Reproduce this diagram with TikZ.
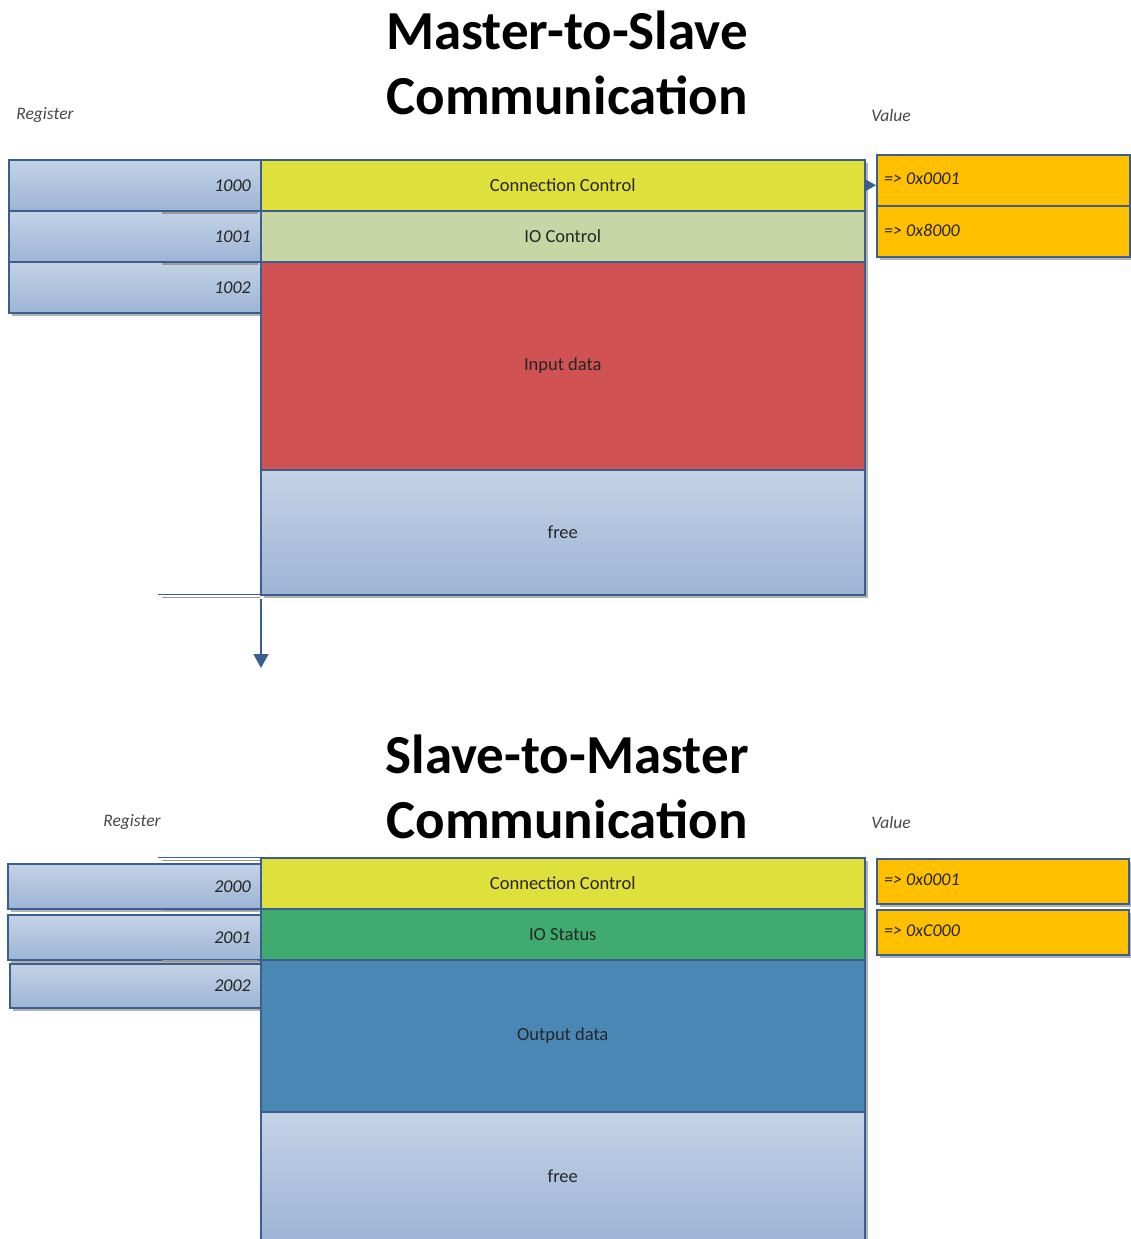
\documentclass[tikz,border=0pt]{standalone}
\usepackage{fontspec}
\setmainfont{Carlito}
\usetikzlibrary{shadows,arrows.meta}
\definecolor{bordc}{HTML}{3A5F8F}
\definecolor{gradtop}{HTML}{C4D3E6}
\definecolor{gradbot}{HTML}{9DB4D5}
\definecolor{yel}{HTML}{E0E03C}
\definecolor{palegreen}{HTML}{C8D5A5}
\definecolor{redblk}{HTML}{D05252}
\definecolor{greenblk}{HTML}{40AB6F}
\definecolor{blueblk}{HTML}{4A87B5}
\definecolor{orng}{HTML}{FFC000}
\definecolor{txt}{HTML}{262626}
\tikzset{
  shad/.style={drop shadow={shadow xshift=3pt, shadow yshift=-3pt, fill=black, opacity=0.3}},
  regbox/.style={draw=bordc, line width=1.5pt, top color=gradtop, bottom color=gradbot,
    minimum height=#1, inner sep=0pt, anchor=north west, align=right,
    font=\itshape\fontsize{18}{21}\selectfont, text=txt, shad},
  blk/.style={draw=bordc, line width=1.5pt, fill=#1, minimum width=604pt, inner sep=0pt,
    anchor=north west, font=\fontsize{18.5}{22}\selectfont, text=txt, shad},
  fblk/.style={draw=bordc, line width=1.5pt, top color=gradtop, bottom color=gradbot, minimum width=604pt, inner sep=0pt,
    anchor=north west, font=\fontsize{18.5}{22}\selectfont, text=txt, shad},
  valbox/.style={draw=bordc, line width=1.5pt, fill=orng, minimum height=#1, inner sep=0pt,
    anchor=north west, text=txt, shad},
  valtxt/.style={anchor=west, inner sep=0pt, font=\itshape\fontsize{18}{21}\selectfont, text=txt},
  hdr/.style={font=\itshape\fontsize{17.5}{20}\selectfont, text=txt!85, inner sep=0pt},
  ttl/.style={font=\bfseries\fontsize{55}{62}\selectfont, anchor=base, inner sep=0pt},
  conn/.style={draw=bordc, line width=1.5pt},
  ghost/.style={draw=black!40, line width=1.5pt},
}
\begin{document}
\begin{tikzpicture}[x=1pt,y=-1pt]
\useasboundingbox (0,0) rectangle (1131,1239);
\fill[white] (0,0) rectangle (1131,1239);
\clip (0,0) rectangle (1131,1239);

% ---------- Top section ----------
\node[ttl] (t1a) at (567,49) {Master-to-Slave};
\node[ttl] (t1b) at (567,114) {Communication};
\node[hdr] (reg1) at (45,115) {Register};
\node[hdr] (val1) at (891,115) {Value};

\node[regbox=51pt, minimum width=252pt, text width=232pt] (r1000) at (8,159) {1000};
\node[regbox=51pt, minimum width=252pt, text width=232pt] (r1001) at (8,210) {1001};
\node[regbox=51pt, minimum width=252pt, text width=232pt] (r1002) at (8,261) {1002};
\draw[ghost] (162,213) -- (258,213);
\draw[ghost] (162,264) -- (258,264);

\node[blk=yel, minimum height=51pt] (cc1) at (260,159) {Connection Control};
\node[blk=palegreen, minimum height=51pt] (io1) at (260,210) {IO Control};
\node[blk=redblk, minimum height=208pt] (in1) at (260,261) {Input data};
\node[fblk, minimum height=125pt] (fr1) at (260,469) {free};

\node[valbox=51pt, minimum width=253pt] (v1) at (876,154) {};
\node[valbox=51pt, minimum width=253pt] (v2) at (876,205) {};
\node[valtxt] (v1t) at (884,179) {=> 0x0001};
\node[valtxt] (v2t) at (884,230) {=> 0x8000};

\draw[conn, -{Triangle[length=12pt,width=13pt]}] (cc1.east) -- (cc1.east -| v1.west);

\coordinate (e1) at (158,594.5);
\coordinate (e1s) at (162,597.5);
\draw[ghost] (e1s) -- (e1s -| fr1.south west);
\draw[conn] (e1) -- (e1 -| fr1.south west);
\coordinate (a0) at (261,599);
\coordinate (a1) at (261,668);
\draw[conn, -{Triangle[length=14pt,width=15pt]}] (a0) -- (a1);

% ---------- Bottom section ----------
\node[ttl] (t2a) at (567,773) {Slave-to-Master};
\node[ttl] (t2b) at (567,838) {Communication};
\node[hdr] (reg2) at (132,822) {Register};
\node[hdr] (val2) at (891,822) {Value};

\coordinate (e2) at (158,857.5);
\coordinate (e2s) at (162,860.5);
\draw[ghost] (e2s) -- (260,860.5);

\node[regbox=45pt, minimum width=253pt, text width=233pt] (r2000) at (7,863) {2000};
\node[regbox=45pt, minimum width=253pt, text width=233pt] (r2001) at (7,914) {2001};
\node[regbox=44pt, minimum width=251pt, text width=231pt] (r2002) at (9,963) {2002};
\draw[ghost] (162,910.5) -- (258,910.5);
\draw[ghost] (162,961) -- (258,961);

\node[blk=yel, minimum height=51pt] (cc2) at (260,857) {Connection Control};
\node[blk=greenblk, minimum height=51pt] (io2) at (260,908) {IO Status};
\node[blk=blueblk, minimum height=152pt] (out2) at (260,959) {Output data};
\node[fblk, minimum height=128pt] (fr2) at (260,1111) {free};
\draw[conn] (e2) -- (e2 -| cc2.north west);

\node[valbox=45pt, minimum width=252pt] (v3) at (876,858) {};
\node[valbox=45pt, minimum width=252pt] (v4) at (876,909) {};
\node[valtxt] (v3t) at (884,880) {=> 0x0001};
\node[valtxt] (v4t) at (884,931) {=> 0xC000};
\end{tikzpicture}
\end{document}
